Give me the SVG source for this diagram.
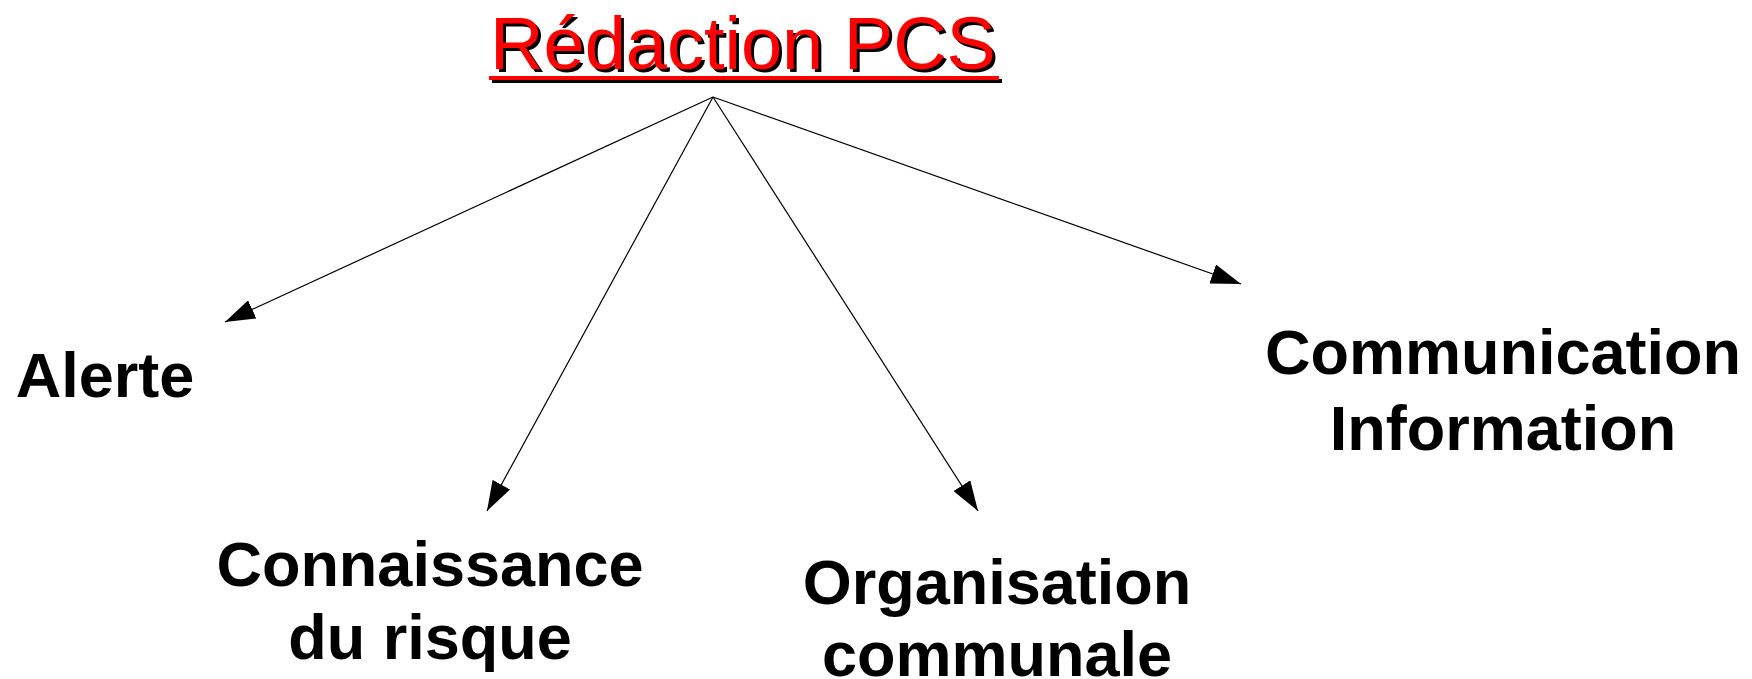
<svg xmlns="http://www.w3.org/2000/svg" width="1752" height="679" viewBox="0 0 1752 679">
<style>
.lbl{font-family:"Liberation Sans",Arial,sans-serif;font-weight:bold;font-size:63px;fill:#000;text-anchor:middle}
.ttl{font-family:"Liberation Sans",Arial,sans-serif;font-size:74px;text-anchor:middle}
.conn{stroke:#000;stroke-width:1.2;fill:none;marker-end:url(#ah)}
</style>
<defs>
<marker id="ah" markerUnits="userSpaceOnUse" markerWidth="30" markerHeight="20" refX="30" refY="10" orient="auto">
<path d="M0,0 L30,10 L0,20 Z" fill="#000"/>
</marker>
</defs>
<rect width="1752" height="679" fill="#fff"/>
<g id="title">
<text class="ttl" x="746" y="72" fill="#000">Rédaction PCS</text>
<rect x="492" y="79" width="510" height="4" fill="#000"/>
<text class="ttl" x="743" y="69" fill="#ff0000">Rédaction PCS</text>
<rect x="489" y="76" width="510" height="4" fill="#ff0000"/>
</g>
<g id="connectors">
<line class="conn" x1="713" y1="97" x2="225" y2="322"/>
<line class="conn" x1="713" y1="97" x2="487" y2="511"/>
<line class="conn" x1="713" y1="97" x2="978" y2="511"/>
<line class="conn" x1="713" y1="97" x2="1241" y2="284"/>
</g>
<g id="alerte"><text class="lbl" x="105" y="397">Alerte</text></g>
<g id="connaissance"><text class="lbl" x="430" y="586">Connaissance</text><text class="lbl" x="430" y="659">du risque</text></g>
<g id="organisation"><text class="lbl" x="997" y="604">Organisation</text><text class="lbl" x="997" y="676">communale</text></g>
<g id="communication"><text class="lbl" x="1503" y="374">Communication</text><text class="lbl" x="1503" y="450">Information</text></g>
</svg>
